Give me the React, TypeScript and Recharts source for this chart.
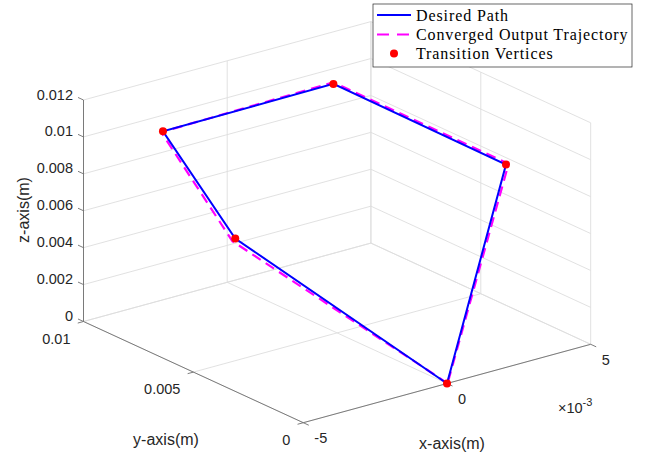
import React from 'react'
import { ReferenceLine, Scatter, ScatterChart, XAxis, YAxis } from 'recharts'

// axis ticks (m)
const xTicks = [-0.005, 0, 0.005]
const xTickLabels = ['-5', '0', '5']
const yTicks = [0, 0.005, 0.01]
const yTickLabels = ['0', '0.005', '0.01']
const zTicks = [0, 0.002, 0.004, 0.006, 0.008, 0.01, 0.012]
const zTickLabels = ['0', '0.002', '0.004', '0.006', '0.008', '0.01', '0.012']

// desired path, closed loop (m)
const desiredX = [0, -0.00125, -0.003, 0.0014, 0.0045, 0]
const desiredY = [0, 0.008, 0.009, 0.007, 0.0032, 0]
const desiredZ = [0, 0.004, 0.01, 0.0118, 0.0082, 0]

// converged output trajectory (m)
const convergedX = [0.00002, -0.00135, -0.00306, 0.0014, 0.00459, 0.00002]
const convergedY = [0, 0.008, 0.009, 0.007, 0.0032, 0]
const convergedZ = [0, 0.0039, 0.00998, 0.01188, 0.0082, 0]

// transition vertices (m)
const vertexX = [0, -0.00125, -0.003, 0.0014, 0.0045]
const vertexY = [0, 0.008, 0.009, 0.007, 0.0032]
const vertexZ = [0, 0.004, 0.01, 0.0118, 0.0082]

const W = 648
const H = 455
const xLim = [-0.005, 0.005]
const yLim = [0, 0.01]
const zLim = [0, 0.012]

// view: screen position of (xmin, ymin, zmin) and the screen vectors of each full axis range
const origin = { x: 303.3, y: 422.7 }
const ex = { x: 287.4, y: -78.4 }
const ey = { x: -219.8, y: -101.2 }
const ez = { x: 0, y: -221.5 }

type P3 = [number, number, number]

function proj([x, y, z]: P3) {
  const a = (x - xLim[0]) / (xLim[1] - xLim[0])
  const b = (y - yLim[0]) / (yLim[1] - yLim[0])
  const c = (z - zLim[0]) / (zLim[1] - zLim[0])
  return {
    sx: origin.x + a * ex.x + b * ey.x + c * ez.x,
    sy: origin.y + a * ex.y + b * ey.y + c * ez.y,
  }
}

const toPts = (xs: number[], ys: number[], zs: number[]) => xs.map((x, i) => proj([x, ys[i], zs[i]]))

const desiredPts = toPts(desiredX, desiredY, desiredZ)
const convergedPts = toPts(convergedX, convergedY, convergedZ)
const vertexPts = toPts(vertexX, vertexY, vertexZ)

// grid on the three back planes
const gridSegs: [P3, P3][] = [
  ...xTicks.map((x) => [[x, yLim[0], zLim[0]], [x, yLim[1], zLim[0]]] as [P3, P3]),
  ...yTicks.map((y) => [[xLim[0], y, zLim[0]], [xLim[1], y, zLim[0]]] as [P3, P3]),
  ...xTicks.map((x) => [[x, yLim[1], zLim[0]], [x, yLim[1], zLim[1]]] as [P3, P3]),
  ...zTicks.map((z) => [[xLim[0], yLim[1], z], [xLim[1], yLim[1], z]] as [P3, P3]),
  ...yTicks.map((y) => [[xLim[1], y, zLim[0]], [xLim[1], y, zLim[1]]] as [P3, P3]),
  ...zTicks.map((z) => [[xLim[1], yLim[0], z], [xLim[1], yLim[1], z]] as [P3, P3]),
]

const tx = 0.0002
const ty = 0.00025
const axisSegs: [P3, P3][] = [
  [[xLim[0], yLim[1], zLim[0]], [xLim[0], yLim[1], zLim[1]]],
  [[xLim[0], yLim[0], zLim[0]], [xLim[0], yLim[1], zLim[0]]],
  [[xLim[0], yLim[0], zLim[0]], [xLim[1], yLim[0], zLim[0]]],
  ...zTicks.map((z) => [[xLim[0], yLim[1], z], [xLim[0], yLim[1] + ty, z]] as [P3, P3]),
  ...yTicks.map((y) => [[xLim[0], y, zLim[0]], [xLim[0] - tx, y, zLim[0]]] as [P3, P3]),
  ...xTicks.map((x) => [[x, yLim[0], zLim[0]], [x, yLim[0] - ty, zLim[0]]] as [P3, P3]),
]

const zLabelPts = zTicks.map((z, i) => ({ ...proj([xLim[0], yLim[1], z]), label: zTickLabels[i] }))
const yLabelPts = yTicks.map((y, i) => ({ ...proj([xLim[0], y, zLim[0]]), label: yTickLabels[i] }))
const xLabelPts = xTicks.map((x, i) => ({ ...proj([x, yLim[0], zLim[0]]), label: xTickLabels[i] }))

const sans = '"Liberation Sans", Arial, sans-serif'
const serif = '"Liberation Serif", "Times New Roman", serif'
const ink = '#262626'

const seg = (s: [P3, P3]) => {
  const a = proj(s[0])
  const b = proj(s[1])
  return [{ x: a.sx, y: a.sy }, { x: b.sx, y: b.sy }]
}

const tickText = (dx: number, dy: number, anchor: string) => (p: any) => (
  <text
    x={p.cx + dx}
    y={p.cy + dy}
    textAnchor={anchor}
    dominantBaseline="central"
    fontFamily={sans}
    fontSize={14.5}
    fill={ink}
  >
    {p.payload.label}
  </text>
)

const noDot = () => <g />

export default function App() {
  return (
    <div style={{ position: 'absolute', left: 0, top: 0, width: W, height: H, background: '#fff' }}>
      <ScatterChart width={W} height={H} margin={{ top: 0, right: 0, bottom: 0, left: 0 }}>
        <XAxis type="number" dataKey="sx" domain={[0, W]} allowDataOverflow hide />
        <YAxis type="number" dataKey="sy" domain={[0, H]} allowDataOverflow reversed hide />
        {gridSegs.map((s, i) => (
          <ReferenceLine key={'g' + i} segment={seg(s)} stroke="#dedede" strokeWidth={0.9} ifOverflow="visible" />
        ))}
        {axisSegs.map((s, i) => (
          <ReferenceLine key={'a' + i} segment={seg(s)} stroke="#6e6e6e" strokeWidth={0.9} ifOverflow="visible" />
        ))}
        <Scatter data={zLabelPts} shape={tickText(-10.5, -5.5, 'end')} isAnimationActive={false} />
        <Scatter data={yLabelPts} shape={tickText(-13, 17, 'end')} isAnimationActive={false} />
        <Scatter data={xLabelPts} shape={tickText(11, 15.5, 'start')} isAnimationActive={false} />
        <Scatter
          data={convergedPts}
          shape={noDot}
          line={{ stroke: '#ff00ff', strokeWidth: 2.2, strokeDasharray: '10 6' }}
          isAnimationActive={false}
        />
        <Scatter data={desiredPts} shape={noDot} line={{ stroke: '#0000ff', strokeWidth: 2 }} isAnimationActive={false} />
        <Scatter
          data={vertexPts}
          shape={(p: any) => <circle cx={p.cx} cy={p.cy} r={4} fill="#ff0000" />}
          isAnimationActive={false}
        />
      </ScatterChart>
      <svg width={W} height={H} style={{ position: 'absolute', left: 0, top: 0, pointerEvents: 'none' }}>
        <text x={0} y={0} transform="translate(23 210) rotate(-90)" textAnchor="middle" dominantBaseline="central" fontFamily={sans} fontSize={16} fill={ink}>
          z-axis(m)
        </text>
        <text x={166} y={439} textAnchor="middle" dominantBaseline="central" fontFamily={sans} fontSize={16} fill={ink}>
          y-axis(m)
        </text>
        <text x={452} y={443} textAnchor="middle" dominantBaseline="central" fontFamily={sans} fontSize={16} fill={ink}>
          x-axis(m)
        </text>
        <text x={558} y={413} fontFamily={sans} fontSize={14.5} fill={ink}>
          ×10<tspan fontSize={11} dy={-7}>-3</tspan>
        </text>
        <rect x={373} y={4} width={259} height={63} fill="#fff" stroke={ink} strokeWidth={0.7} />
        <line x1={377} y1={15} x2={411} y2={15} stroke="#0000ff" strokeWidth={2} />
        <line x1={377} y1={34.5} x2={411} y2={34.5} stroke="#ff00ff" strokeWidth={2} strokeDasharray="12 8" />
        <circle cx={394} cy={53.5} r={4} fill="#ff0000" />
        <g fontFamily={serif} fontSize={16} fill="#000" letterSpacing={0.9}>
          <text x={416} y={15} dominantBaseline="central">Desired Path</text>
          <text x={416} y={34.5} dominantBaseline="central">Converged Output Trajectory</text>
          <text x={416} y={53.5} dominantBaseline="central">Transition Vertices</text>
        </g>
      </svg>
    </div>
  )
}
